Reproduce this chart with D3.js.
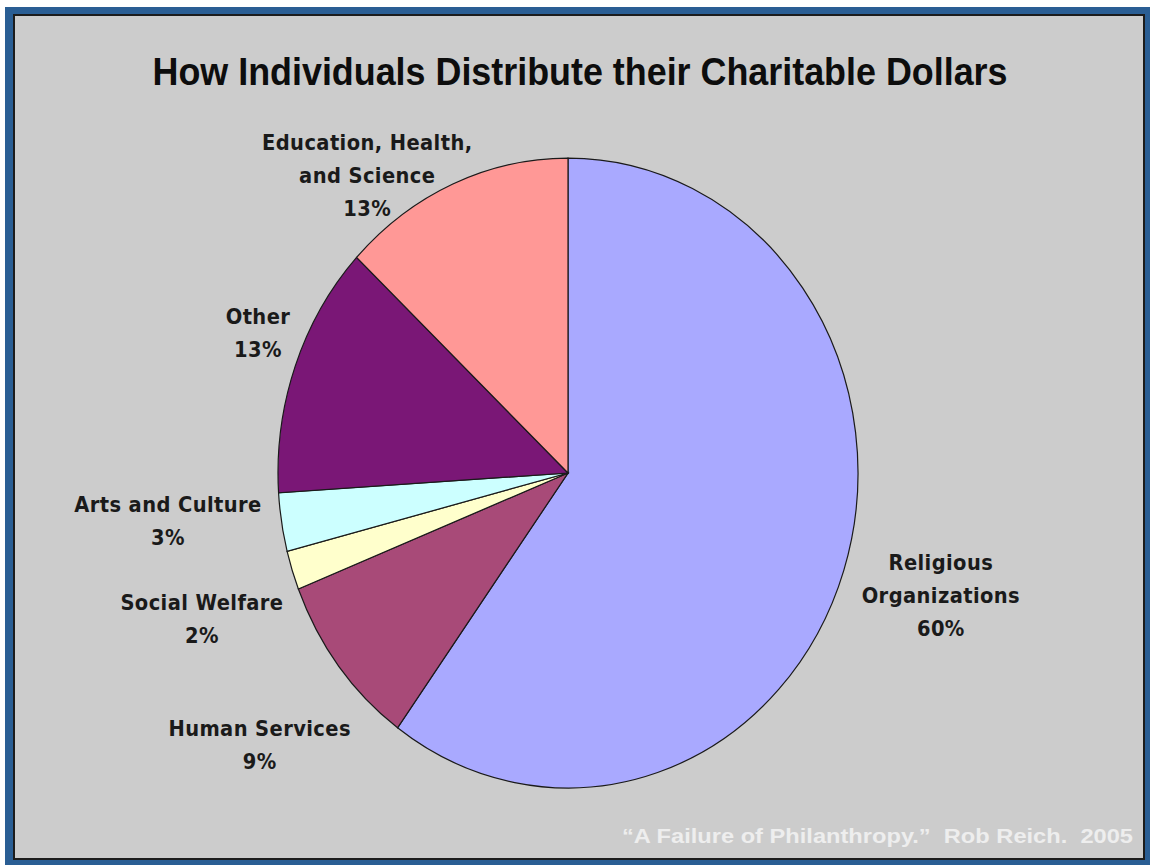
<!DOCTYPE html>
<html lang="en">
<head>
    <meta charset="UTF-8">
    <title>How Individuals Distribute their Charitable Dollars</title>
    <script src="https://d3js.org/d3.v7.min.js"></script>
    <style>
        body { margin: 0; background: #fff; }
        .slice { stroke: #1a1a1a; stroke-width: 1.2px; }
        .label { font-family: "DejaVu Sans", Verdana, sans-serif; font-weight: bold; font-size: 19.5px; letter-spacing: 0.4px; fill: #1a1a1a; }
    </style>
</head>
<body>
    <svg width="1150" height="865"></svg>

    <script>
        // Data, clockwise from 12 o'clock
        const categories = ['Religious Organizations', 'Human Services', 'Social Welfare',
                            'Arts and Culture', 'Other', 'Education, Health, and Science'];
        const labelLines = [['Religious', 'Organizations'], ['Human Services'], ['Social Welfare'],
                            ['Arts and Culture'], ['Other'], ['Education, Health,', 'and Science']];
        const shares = [60, 9, 2, 3, 13, 13];
        const colors = ['#a9a9ff', '#a84a78', '#ffffcc', '#ccffff', '#7a1776', '#ff9896'];

        // label placement: radius factor and angle nudge (degrees) from slice middle
        const labelRadius = [1.343, 1.37, 1.345, 1.388, 1.158, 1.172];
        const labelNudge = [-1.2, -1.3, -2.2, 2.7, 2.8, -12.8];

        const svg = d3.select('svg');
        const yStretch = 1.086;

        // frame
        svg.append('rect').attr('x', 5).attr('y', 7).attr('width', 1145).attr('height', 858)
            .attr('fill', '#2a5e94');
        svg.append('rect').attr('x', 14).attr('y', 15).attr('width', 1130).attr('height', 844)
            .attr('fill', '#cccccc').attr('stroke', '#1c1c1c').attr('stroke-width', 2);

        // title
        svg.append('g').attr('transform', `translate(580,85) scale(1,${yStretch})`)
            .append('text')
            .attr('text-anchor', 'middle')
            .attr('font-family', 'Liberation Sans, Arial, sans-serif')
            .attr('font-weight', 'bold')
            .attr('font-size', 35)
            .attr('textLength', 855)
            .attr('lengthAdjust', 'spacingAndGlyphs')
            .attr('fill', '#0d0d0d')
            .text('How Individuals Distribute their Charitable Dollars');

        const radius = 290;
        const g = svg.append('g').attr('transform', `translate(568,473) scale(1,${yStretch})`);

        const pie = d3.pie().sort(null).value(d => d);
        const arc = d3.arc().innerRadius(0).outerRadius(radius);
        const arcs = pie(shares);

        g.selectAll('.slice')
            .data(arcs)
            .enter().append('path')
            .attr('class', 'slice')
            .attr('d', arc)
            .attr('fill', (d, i) => colors[i])
            .attr('vector-effect', 'non-scaling-stroke');

        // labels
        const lineH = 30.5;
        const labels = g.selectAll('.label')
            .data(arcs)
            .enter().append('text')
            .attr('class', 'label')
            .attr('text-anchor', 'middle')
            .attr('transform', (d, i) => {
                const a = (d.startAngle + d.endAngle) / 2 + labelNudge[i] * Math.PI / 180;
                const r = radius * labelRadius[i];
                return `translate(${r * Math.sin(a)},${-r * Math.cos(a)})`;
            });

        labels.each(function (d, i) {
            const lines = labelLines[i].concat([shares[i] + '%']);
            const t = d3.select(this);
            const top = -(lines.length - 1) * lineH / 2;
            lines.forEach((s, k) => {
                t.append('tspan')
                    .attr('x', 0)
                    .attr('y', top + k * lineH)
                    .attr('dy', '0.36em')
                    .text(s);
            });
        });

        // source note
        svg.append('g').attr('transform', `translate(1133,843) scale(1,${yStretch})`)
            .append('text')
            .attr('text-anchor', 'end')
            .attr('font-family', 'Liberation Sans, Arial, sans-serif')
            .attr('font-weight', 'bold')
            .attr('font-size', 19)
            .attr('textLength', 511)
            .attr('lengthAdjust', 'spacingAndGlyphs')
            .attr('fill', '#eeeeee')
            .attr('xml:space', 'preserve')
            .text('\u201cA Failure of Philanthropy.\u201d  Rob Reich.  2005');
    </script>
</body>
</html>
